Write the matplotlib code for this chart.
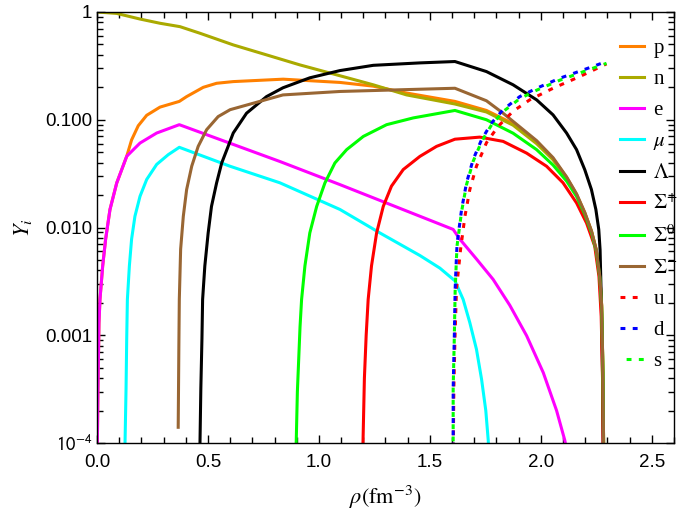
import numpy as np
import matplotlib.pyplot as plt
from matplotlib.ticker import FixedLocator, FixedFormatter, MultipleLocator, LogLocator, NullFormatter

plt.rcParams['font.family'] = ['Liberation Sans', 'DejaVu Sans']
plt.rcParams['mathtext.fontset'] = 'stix'

# particle fractions Y_i, rho in fm^-3
p_x = [0.0, 0.0045, 0.009, 0.0135, 0.0257, 0.039, 0.0586, 0.089, 0.134, 0.156, 0.186, 0.224, 0.284, 0.371,
       0.404, 0.479, 0.539, 0.614, 0.839, 1.095, 1.245, 1.395, 1.613, 1.755, 1.875, 1.981, 2.055, 2.116,
       2.161, 2.198, 2.228, 2.25, 2.266, 2.274, 2.28, 2.284]
p_y = [5e-5, 3.2e-4, 1.3e-3, 2.15e-3, 4.4e-3, 7.8e-3, 0.0147, 0.0259, 0.0458, 0.065, 0.088, 0.11, 0.131, 0.148,
       0.164, 0.2, 0.218, 0.226, 0.238, 0.222, 0.205, 0.177, 0.148, 0.122, 0.092, 0.062, 0.0435, 0.0292,
       0.0203, 0.0137, 0.0093, 0.0062, 0.0035, 0.0019, 4.5e-4, 5e-5]

n_x = [0.0, 0.089, 0.194, 0.284, 0.374, 0.464, 0.614, 0.764, 0.914, 1.095, 1.245, 1.395, 1.613, 1.755,
       1.875, 1.981, 2.055, 2.116, 2.161, 2.198, 2.228, 2.25, 2.266, 2.274, 2.28, 2.284]
n_y = [1.0, 0.97, 0.86, 0.786, 0.731, 0.635, 0.495, 0.4, 0.323, 0.256, 0.211, 0.17, 0.14, 0.118,
       0.089, 0.06, 0.0425, 0.0287, 0.02, 0.0135, 0.0092, 0.0061, 0.0035, 0.0019, 4.5e-4, 5e-5]

e_x = [0.0, 0.0045, 0.009, 0.0135, 0.0257, 0.039, 0.0586, 0.089, 0.134, 0.194, 0.269, 0.371, 0.824, 1.095,
       1.605, 1.635, 1.71, 1.785, 1.86, 1.936, 2.011, 2.071, 2.108, 2.12]
e_y = [5e-5, 3.2e-4, 1.3e-3, 2.15e-3, 4.4e-3, 7.8e-3, 0.0147, 0.0259, 0.0458, 0.0608, 0.0753, 0.09, 0.041, 0.025,
       0.0096, 0.0078, 0.0051, 0.0033, 0.0019, 9.9e-4, 4.5e-4, 2.0e-4, 1.06e-4, 8e-5]

mu_x = [0.125, 0.131, 0.134, 0.137, 0.146, 0.156, 0.171, 0.194, 0.224, 0.269, 0.321, 0.371, 0.6, 0.824,
        1.095, 1.275, 1.455, 1.545, 1.613, 1.65, 1.68, 1.71, 1.733, 1.752, 1.763, 1.767]
mu_y = [7e-5, 3.2e-4, 9.3e-4, 2.15e-3, 4.4e-3, 7.8e-3, 0.0127, 0.0195, 0.0279, 0.0385, 0.0474, 0.0555, 0.037, 0.026,
        0.0147, 0.0089, 0.0055, 0.0042, 0.0032, 0.00215, 0.00131, 7.4e-4, 3.9e-4, 2.0e-4, 1.06e-4, 7e-5]

lam_x = [0.463, 0.468, 0.473, 0.476, 0.486, 0.501, 0.516, 0.539, 0.562, 0.591, 0.614, 0.674, 0.764, 0.838,
         0.959, 1.095, 1.245, 1.455, 1.613, 1.755, 1.875, 1.981, 2.055, 2.116, 2.161, 2.198, 2.228, 2.248,
         2.261, 2.267, 2.273, 2.278, 2.282]
lam_y = [7e-5, 3.2e-4, 9.3e-4, 2.15e-3, 4.4e-3, 8.9e-3, 0.0157, 0.0259, 0.0397, 0.0566, 0.0753, 0.115, 0.164, 0.198,
         0.245, 0.286, 0.32, 0.337, 0.347, 0.28, 0.211, 0.153, 0.111, 0.0753, 0.0528, 0.0344, 0.0225, 0.0147,
         0.0096, 0.0062, 0.0019, 4.5e-4, 5e-5]

sp_x = [1.197, 1.205, 1.213, 1.222, 1.237, 1.26, 1.29, 1.327, 1.38, 1.455, 1.53, 1.613, 1.725, 1.83,
        1.936, 2.026, 2.1, 2.161, 2.206, 2.243, 2.262, 2.272, 2.278, 2.282]
sp_y = [7e-5, 4e-4, 1e-3, 2.15e-3, 4.4e-3, 8.9e-3, 0.0157, 0.0242, 0.0345, 0.0457, 0.0566, 0.066, 0.069, 0.063,
        0.049, 0.037, 0.026, 0.0169, 0.011, 0.0067, 0.0035, 0.0015, 4e-4, 5e-5]

s0_x = [0.896, 0.903, 0.915, 0.922, 0.937, 0.959, 0.99, 1.027, 1.072, 1.125, 1.2, 1.305, 1.425, 1.613,
        1.755, 1.875, 1.981, 2.055, 2.116, 2.161, 2.198, 2.228, 2.25, 2.266, 2.274, 2.28, 2.284]
s0_y = [7e-5, 3e-4, 1.2e-3, 2.15e-3, 4.4e-3, 8.9e-3, 0.0157, 0.0259, 0.0397, 0.0528, 0.07, 0.09, 0.104, 0.122,
        0.1, 0.075, 0.0528, 0.038, 0.027, 0.0194, 0.0133, 0.009, 0.006, 0.0034, 0.0018, 4.5e-4, 5e-5]

sm_x = [0.366, 0.369, 0.371, 0.377, 0.389, 0.404, 0.427, 0.456, 0.494, 0.546, 0.6, 0.838, 1.095, 1.455,
        1.613, 1.755, 1.83, 1.981, 2.055, 2.116, 2.161, 2.198, 2.228, 2.25, 2.266, 2.274, 2.28, 2.284]
sm_y = [1.4e-4, 8e-4, 2.15e-3, 6.3e-3, 0.0127, 0.0225, 0.0371, 0.0566, 0.0808, 0.107, 0.124, 0.17, 0.183, 0.192,
        0.196, 0.15, 0.115, 0.064, 0.0445, 0.0295, 0.0205, 0.0138, 0.0093, 0.0062, 0.0035, 0.0019, 4.5e-4, 5e-5]

u_x = [1.605, 1.608, 1.613, 1.62, 1.638, 1.658, 1.68, 1.71, 1.755, 1.808, 1.875, 1.95, 2.055, 2.176, 2.296]
u_y = [7e-5, 3.2e-4, 9.3e-4, 2.7e-3, 6.2e-3, 0.0127, 0.0225, 0.0371, 0.0612, 0.087, 0.12, 0.153, 0.196, 0.252, 0.33]

d_x = [1.605, 1.605, 1.61, 1.614, 1.62, 1.623, 1.643, 1.665, 1.695, 1.733, 1.778, 1.83, 1.905, 1.981, 2.086, 2.191, 2.296]
d_y = [7e-5, 3.2e-4, 9.3e-4, 2.7e-3, 5.5e-3, 7.2e-3, 0.0147, 0.0259, 0.0428, 0.0654, 0.0933, 0.124, 0.164, 0.196, 0.243, 0.29, 0.347]

s_x = [1.605, 1.605, 1.61, 1.614, 1.62, 1.623, 1.643, 1.665, 1.695, 1.733, 1.778, 1.83, 1.905, 1.981, 2.086, 2.191, 2.296]
s_y = [7e-5, 3.2e-4, 9.2e-4, 2.6e-3, 5.3e-3, 6.9e-3, 0.0141, 0.0249, 0.0411, 0.0628, 0.0896, 0.119, 0.157, 0.188, 0.233, 0.279, 0.334]

fig = plt.figure(figsize=(6.81, 5.17), dpi=100)
ax = fig.add_axes([0.1424, 0.1431, 0.8473, 0.8337])

lw = 2.2
ax.plot(p_x, p_y, color='#FF8000', lw=lw, label='p')
ax.plot(n_x, n_y, color='#AAAA00', lw=lw, label='n')
ax.plot(e_x, e_y, color='#FF00FF', lw=lw, label='e')
ax.plot(mu_x, mu_y, color='#00FFFF', lw=lw, label=r'$\mu$')
ax.plot(lam_x, lam_y, color='black', lw=lw, label=r'$\Lambda$')
ax.plot(sp_x, sp_y, color='#FF0000', lw=lw, label=r'$\Sigma^{+}$')
ax.plot(s0_x, s0_y, color='#00FF00', lw=lw, label=r'$\Sigma^{0}$')
ax.plot(sm_x, sm_y, color='#996633', lw=lw, label=r'$\Sigma^{-}$')
ax.plot(u_x, u_y, color='#FF0000', lw=lw, linestyle=(0, (1.6, 2.4)), label='u')
ax.plot(d_x, d_y, color='#0000FF', lw=lw, linestyle=(0, (1.6, 2.4)), label='d')
ax.plot(s_x, s_y, color='#00FF00', lw=lw, linestyle=(2.0, (1.6, 2.4)), label='s')

ax.set_yscale('log')
ax.set_xlim(0, 2.6)
ax.set_ylim(1e-4, 1)

ax.xaxis.set_major_locator(FixedLocator([0.0, 0.5, 1.0, 1.5, 2.0, 2.5]))
ax.xaxis.set_major_formatter(FixedFormatter(['0.0', '0.5', '1.0', '1.5', '2.0', '2.5']))
ax.xaxis.set_minor_locator(MultipleLocator(0.1))
ax.yaxis.set_major_locator(FixedLocator([1e-4, 1e-3, 1e-2, 1e-1, 1]))
ax.yaxis.set_major_formatter(FixedFormatter([r'$\mathsf{10}^{\mathsf{-4}}$', '0.001', '0.010', '0.100', '1']))
ax.yaxis.set_minor_locator(LogLocator(base=10, subs=np.arange(2, 10)))
ax.yaxis.set_minor_formatter(NullFormatter())

ax.tick_params(which='both', direction='in', top=True, right=True, labelsize=13.5, width=1)
ax.tick_params(which='major', length=6)
ax.tick_params(which='minor', length=4)
ax.tick_params(axis='x', pad=8)
for sp in ax.spines.values():
    sp.set_linewidth(1)

ax.set_xlabel(r'$\rho(\mathrm{fm}^{-3})$', fontsize=16, labelpad=9)
ax.set_ylabel(r'$Y_i$', fontsize=16, labelpad=8)

ax.legend(loc='upper left', bbox_to_anchor=(0.9064, 0.939), frameon=False,
          borderpad=0, borderaxespad=0, handlelength=1.15, handletextpad=0.45,
          labelspacing=0.55, prop={'family': 'Liberation Serif', 'size': 15})

fig.savefig('out.png', dpi=100)
